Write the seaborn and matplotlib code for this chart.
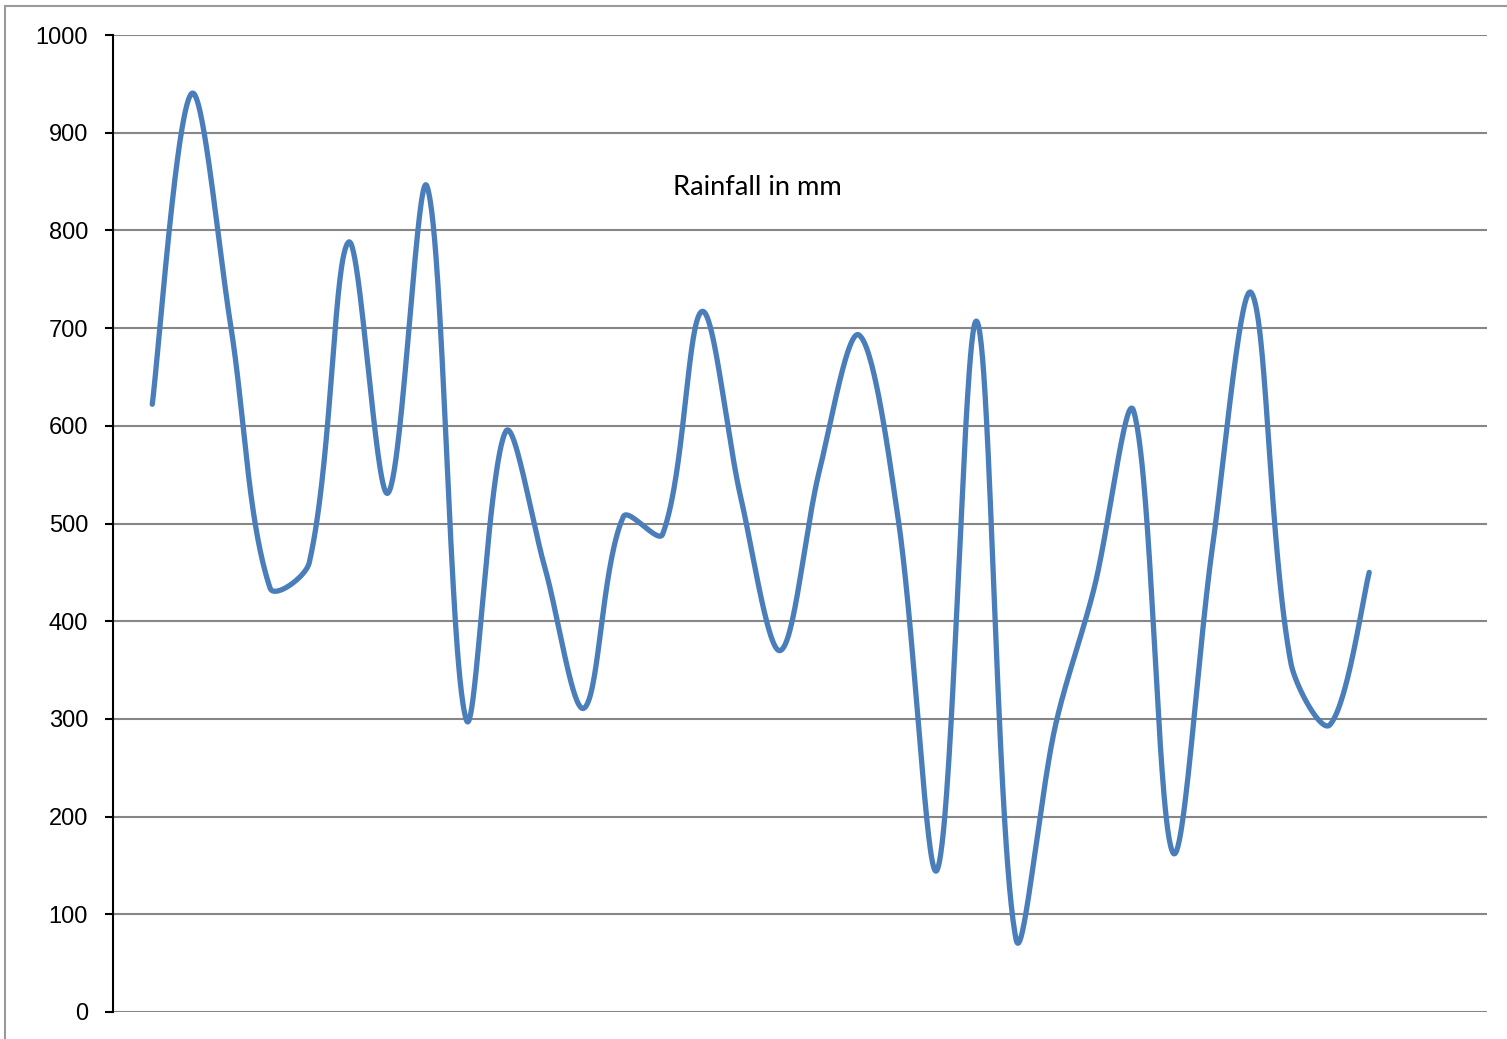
import numpy as np
import matplotlib
matplotlib.use("Agg")
import matplotlib.pyplot as plt
from matplotlib.patches import Rectangle
import seaborn as sns

# Rainfall record (mm), one value per period
period = list(range(1, 33))
rainfall = [622, 940, 702, 434, 460, 788, 531, 845, 299, 594,
            455, 311, 507, 489, 717, 525, 370, 555, 693, 505,
            146, 707, 75, 292, 435, 615, 163, 474, 736, 358,
            294, 450]
y_ticks = list(range(0, 1001, 100))
title_text = "Rainfall in mm"

sns.set_theme(style="white")
plt.rcParams["font.family"] = ["Liberation Sans", "DejaVu Sans"]

fig = plt.figure(figsize=(15.07, 10.39), dpi=100)
ax = fig.add_axes([113 / 1507, 1 - 1012 / 1039, 1374 / 1507, 977 / 1039])
ax.set_xlim(0, 35)
ax.set_ylim(0, 1000)


def smooth_curve(ax, xs, ys, steps=60, tension=1 / 3):
    """Bezier smoothing in screen space, handles weighted by chord length."""
    pts = ax.transData.transform(np.column_stack([xs, ys]))
    n = len(pts)
    out = [pts[0]]
    t = np.linspace(0, 1, steps)[1:, None]
    for i in range(n - 1):
        p0 = pts[i - 1] if i > 0 else pts[i]
        p1, p2 = pts[i], pts[i + 1]
        p3 = pts[i + 2] if i + 2 < n else pts[i + 1]
        d01 = np.linalg.norm(p1 - p0)
        d12 = np.linalg.norm(p2 - p1)
        d23 = np.linalg.norm(p3 - p2)
        f1 = d12 / (d01 + d12) if d01 + d12 > 0 else 0
        f2 = d12 / (d12 + d23) if d12 + d23 > 0 else 0
        if i == 0:
            f1 = 0.5
        if i + 2 >= n:
            f2 = 0.5
        c1 = p1 + (p2 - p0) * tension * f1
        c2 = p2 - (p3 - p1) * tension * f2
        seg = ((1 - t) ** 3) * p1 + 3 * ((1 - t) ** 2) * t * c1 \
            + 3 * (1 - t) * t ** 2 * c2 + t ** 3 * p2
        out.extend(seg)
    out = np.array(out)
    data = ax.transData.inverted().transform(out)
    return data[:, 0], data[:, 1]


sx, sy = smooth_curve(ax, period, rainfall)
sns.lineplot(x=sx, y=sy, sort=False, estimator=None, ax=ax,
             color="#4a7ebb", linewidth=3.8, solid_capstyle="round",
             solid_joinstyle="round", zorder=3)

# Axes styling
ax.set_yticks(y_ticks)
ax.set_xticks([])
ax.set_xlim(0, 35)
ax.set_ylim(0, 1000)
ax.yaxis.grid(True, color="#868686", linewidth=1.5)
ax.set_axisbelow(True)
for side in ("top", "right", "bottom"):
    ax.spines[side].set_visible(False)
ax.spines["left"].set_color("black")
ax.spines["left"].set_linewidth(1.5)
ax.spines["left"].set_zorder(4)
ax.tick_params(axis="y", direction="out", length=6, width=1.5,
               color="black", pad=12, labelsize=17, labelcolor="black",
               left=True)
ax.set_xlabel("")
ax.set_ylabel("")

ax.text(0.469, 0.844, title_text, transform=ax.transAxes,
        ha="center", va="center", fontsize=19.6, color="black",
        family=["Lato", "DejaVu Sans"])

# Chart frame
fig.patches.append(Rectangle((5 / 1507, -0.1), 1.2, 1 - 6 / 1039 + 0.1,
                             transform=fig.transFigure, fill=False,
                             edgecolor="#9a9a9a", linewidth=1.5))

fig.savefig("out.png", dpi=100, facecolor="white")
